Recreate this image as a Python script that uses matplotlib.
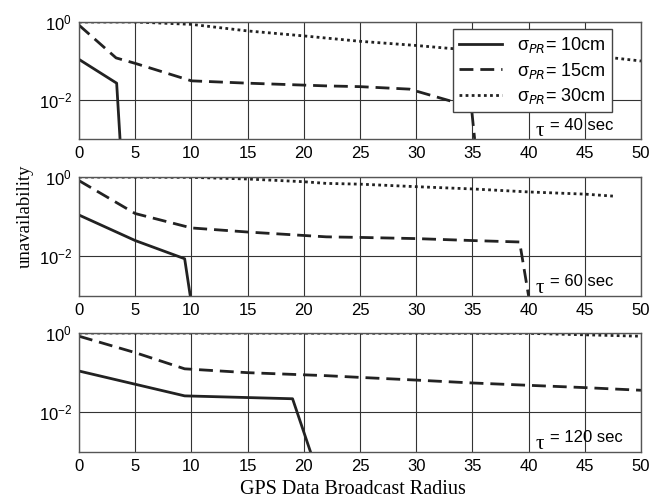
import numpy as np
import matplotlib
matplotlib.use("Agg")
import matplotlib.pyplot as plt

# ---- data ----
taus = [40, 60, 120]

# tau = 40 sec
x40_s10 = [0, 3.35, 3.65]
y40_s10 = [0.11, 0.027, 1e-3]
x40_s15 = [0, 3.3, 5, 10, 15, 22, 25, 29.4, 33.3, 34.9, 35.2]
y40_s15 = [0.83, 0.12, 0.087, 0.031, 0.027, 0.023, 0.022, 0.019, 0.009, 0.007, 1e-3]
x40_s30 = [0, 5, 10, 15, 20, 25, 30, 33, 40, 47, 50]
y40_s30 = [1.0, 1.0, 0.87, 0.59, 0.44, 0.32, 0.25, 0.21, 0.16, 0.125, 0.1]

# tau = 60 sec
x60_s10 = [0, 5, 9.4, 9.9]
y60_s10 = [0.11, 0.025, 0.0087, 1e-3]
x60_s15 = [0, 5, 10, 15, 22, 25, 30, 35, 39.2, 40]
y60_s15 = [0.81, 0.12, 0.052, 0.041, 0.031, 0.030, 0.028, 0.025, 0.023, 1e-3]
x60_s30 = [0, 10, 15, 20, 22, 25, 30, 35, 40, 45, 47.5]
y60_s30 = [1.0, 0.98, 0.89, 0.76, 0.69, 0.66, 0.57, 0.50, 0.42, 0.37, 0.33]

# tau = 120 sec
x120_s10 = [0, 9.4, 19.0, 20.6]
y120_s10 = [0.11, 0.026, 0.022, 1e-3]
x120_s15 = [0, 5, 9.4, 15, 22, 25, 30, 35, 40, 45, 50]
y120_s15 = [0.83, 0.32, 0.125, 0.10, 0.084, 0.076, 0.065, 0.055, 0.048, 0.042, 0.036]
x120_s30 = [0, 40, 45, 50]
y120_s30 = [1.0, 0.98, 0.9, 0.83]

series_labels = ["σ" + r"$_{PR}$" + "= 10cm",
                 "σ" + r"$_{PR}$" + "= 15cm",
                 "σ" + r"$_{PR}$" + "= 30cm"]
xticks = list(range(0, 51, 5))

panels = [
    ((x40_s10, y40_s10), (x40_s15, y40_s15), (x40_s30, y40_s30)),
    ((x60_s10, y60_s10), (x60_s15, y60_s15), (x60_s30, y60_s30)),
    ((x120_s10, y120_s10), (x120_s15, y120_s15), (x120_s30, y120_s30)),
]

W, H = 659, 504
fig = plt.figure(figsize=(W / 100, H / 100), dpi=100)
plt.rcParams['font.family'] = ['Liberation Sans', 'DejaVu Sans']

left, right = 79 / W, 641 / W
boxes = [(22, 139), (177, 296), (333, 452)]
styles = [dict(ls='-', lw=2.0), dict(ls=(0, (5, 2.5)), lw=2.0), dict(ls=(0, (1, 1.2)), lw=2.0)]

axes = []
for i, (tp, bt) in enumerate(boxes):
    ax = fig.add_axes([left, 1 - bt / H, right - left, (bt - tp) / H])
    axes.append(ax)
    for (xs, ys), st, lab in zip(panels[i], styles, series_labels):
        ax.plot(xs, ys, color='#222222', label=lab, **st)
    ax.set_yscale('log')
    ax.set_ylim(1e-3, 1)
    ax.set_xlim(0, 50)
    ax.set_xticks(xticks)
    ax.set_yticks([1e-2, 1e0])
    ax.yaxis.set_minor_locator(matplotlib.ticker.NullLocator())
    ax.grid(True, which='major', color='#333333', lw=0.8)
    ax.tick_params(axis='both', length=0, labelsize=12, pad=5)
    for sp in ax.spines.values():
        sp.set_color('#555555')
        sp.set_linewidth(1.0)
    ax.text(40.6, 1.2e-3, "τ", fontsize=15, ha='left', va='baseline', family=['Liberation Serif'])
    ax.text(41.9, 1.75e-3, f"= {taus[i]} sec", fontsize=12, ha='left', va='baseline')

leg = axes[0].legend(loc='upper left', bbox_to_anchor=((452.7 - 79) / (641 - 79), 1 - (29 - 22) / (139 - 22)),
                     borderaxespad=0, fontsize=13, frameon=True, fancybox=False, edgecolor='#444444',
                     handlelength=2.4, borderpad=0.35, labelspacing=0.3, framealpha=1)
leg.get_frame().set_linewidth(1.0)

fig.text(25 / W, 1 - 216 / H, "unavailability", rotation=90, ha='center', va='center',
         fontsize=13.5, family=['Liberation Serif'])
fig.text((240 + 465) / 2 / W, 1 - 490 / H, "GPS Data Broadcast Radius", ha='center', va='center',
         fontsize=14.5, family=['Liberation Serif'])

fig.savefig("out.png", dpi=100)
